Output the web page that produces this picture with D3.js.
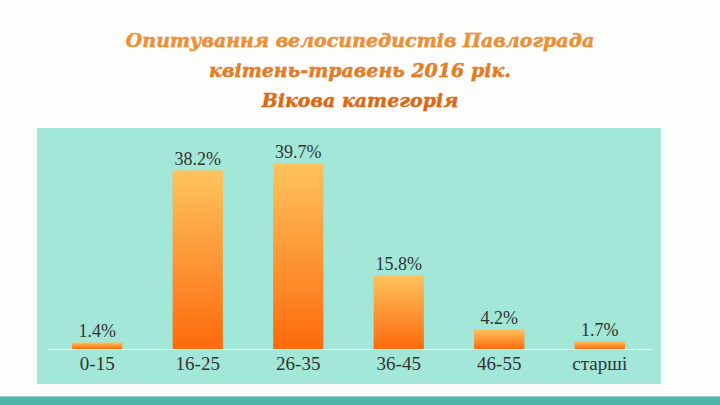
<!DOCTYPE html>
<html><head><meta charset="utf-8">
<script src="https://cdn.jsdelivr.net/npm/d3@7"></script>
<style>html,body{margin:0;padding:0;background:#fdfdfb;}svg{display:block;}</style>
</head><body>
<script>
const categories = ["0-15","16-25","26-35","36-45","46-55","старші"];
const values = [1.4, 38.2, 39.7, 15.8, 4.2, 1.7];
const valueLabels = ["1.4%","38.2%","39.7%","15.8%","4.2%","1.7%"];
const titleLines = ["Опитування велосипедистів Павлограда","квітень-травень 2016 рік.","Вікова категорія"];

const W = 720, H = 405;
const svg = d3.select("body").append("svg").attr("width", W).attr("height", H);
const defs = svg.append("defs");
const g = defs.append("linearGradient").attr("id","barGrad").attr("x1",0).attr("y1",0).attr("x2",0).attr("y2",1);
g.append("stop").attr("offset","0%").attr("stop-color","#fec35e");
g.append("stop").attr("offset","100%").attr("stop-color","#fd6a0c");
const tg = defs.append("linearGradient").attr("id","titleGrad").attr("x1",0).attr("y1",0).attr("x2",0).attr("y2",1);
tg.append("stop").attr("offset","0%").attr("stop-color","#f09a3a");
tg.append("stop").attr("offset","100%").attr("stop-color","#d8620e");

svg.append("rect").attr("x",0).attr("y",0).attr("width",W).attr("height",H).attr("fill","#fdfdfb");
svg.append("rect").attr("x",37).attr("y",128).attr("width",624).attr("height",256).attr("fill","#a3e7d8");
svg.append("rect").attr("x",0).attr("y",397).attr("width",W).attr("height",8).attr("fill","#4fb5a8");
svg.append("rect").attr("x",0).attr("y",396).attr("width",W).attr("height",1).attr("fill","#8fcfc6");

const title = svg.append("text").attr("text-anchor","middle")
  .style("font-family","'DejaVu Serif'")
  .style("font-style","italic").style("font-weight","bold").style("font-size","19px")
  .attr("fill","url(#titleGrad)").attr("stroke","#cf5c0c").attr("stroke-width",0.4)
  .attr("paint-order","stroke");
titleLines.forEach((t,i)=>{
  title.append("tspan").attr("x",360).attr("y",47 + i*30).text(t);
});

const x = d3.scaleBand().domain(categories).range([47, 650]).paddingInner(0.5).paddingOuter(0.25);
const y = d3.scaleLinear().domain([0, 40]).range([349, 162]);

svg.append("line").attr("x1",48).attr("x2",652).attr("y1",y(0)+0.5).attr("y2",y(0)+0.5)
  .attr("stroke","#e4f6f0").attr("stroke-width",1.2);

svg.append("g").selectAll("rect").data(values).join("rect")
  .attr("x",(d,i)=>x(categories[i]))
  .attr("y",d=>y(d))
  .attr("width",x.bandwidth())
  .attr("height",d=>y(0)-y(d))
  .attr("fill","url(#barGrad)");

svg.append("g").selectAll("text").data(values).join("text")
  .attr("x",(d,i)=>x(categories[i])+x.bandwidth()/2)
  .attr("y",d=>y(d)-5)
  .attr("text-anchor","middle")
  .style("font-family","'Liberation Serif',serif").style("font-size","18px")
  .attr("fill","#333")
  .text((d,i)=>valueLabels[i]);

const xAxis = svg.append("g").attr("transform",`translate(0,${y(0)})`)
  .call(d3.axisBottom(x).tickSize(0).tickPadding(8));
xAxis.select(".domain").remove();
xAxis.selectAll("text").style("font-family","'Liberation Serif',serif").style("font-size","19px")
  .attr("fill","#333").attr("dy","0.71em");
</script>
</body></html>
